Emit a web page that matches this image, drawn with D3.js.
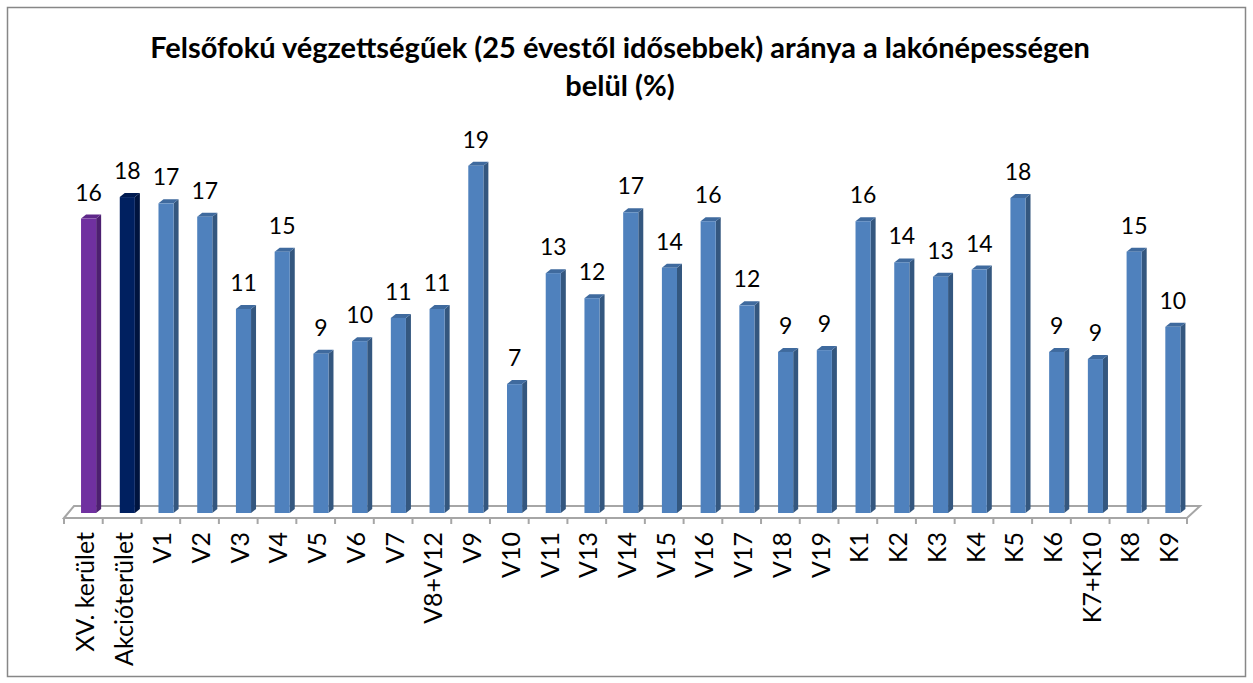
<!DOCTYPE html>
<html>
<head>
<meta charset="utf-8">
<script src="https://cdn.jsdelivr.net/npm/d3@7"></script>
<style>
  body { margin: 0; background: #fff; }
  text { font-family: Lato, "Open Sans", sans-serif; }
</style>
</head>
<body>
<div id="chart"></div>
<script>
// data (labels on the chart are rounded)
var categories = ["XV. kerület", "Akcióterület", "V1", "V2", "V3", "V4", "V5", "V6", "V7", "V8+V12",
  "V9", "V10", "V11", "V13", "V14", "V15", "V16", "V17", "V18", "V19",
  "K1", "K2", "K3", "K4", "K5", "K6", "K7+K10", "K8", "K9"];
var values = [16.45, 17.65, 17.3, 16.55, 11.4, 14.6, 8.9, 9.6, 10.9, 11.4,
  19.4, 7.2, 13.4, 12.0, 16.8, 13.7, 16.3, 11.6, 9.0, 9.1,
  16.3, 14.0, 13.2, 13.6, 17.6, 9.0, 8.6, 14.6, 10.4];
var titleLines = ["Felsőfokú végzettségűek (25 évestől idősebbek) aránya a lakónépességen", "belül (%)"];

var width = 1253, height = 683;
var plot = { left: 64, right: 1187, base: 513, floorFront: 518, floorBack: 506 };
var depth = { dx: 5, dy: -4 };

var svg = d3.select("#chart").append("svg")
  .attr("width", width)
  .attr("height", height);

// chart frame
svg.append("rect")
  .attr("x", 7.5).attr("y", 7.5)
  .attr("width", 1238).attr("height", 669)
  .attr("fill", "#fff")
  .attr("stroke", "#878787")
  .attr("stroke-width", 1.5);

// title
svg.selectAll(".title")
  .data(titleLines)
  .enter()
  .append("text")
  .attr("class", "title")
  .attr("x", 620)
  .attr("y", function(d, i) { return 58 + i * 38; })
  .attr("text-anchor", "middle")
  .style("font-weight", "bold")
  .style("font-size", "29px")
  .text(function(d) { return d; });

var x = d3.scaleBand()
  .domain(categories)
  .range([plot.left, plot.right])
  .padding(0);

var y = d3.scaleLinear()
  .domain([0, 20])
  .range([plot.base, plot.base - 358]);

// floor
svg.append("polygon")
  .attr("points", [[plot.left, plot.floorFront], [plot.left + 10, plot.floorBack],
    [plot.right + 13, plot.floorBack], [plot.right, plot.floorFront]].join(" "))
  .attr("fill", "#fff")
  .attr("stroke", "#a6a6a6")
  .attr("stroke-width", 2);

// ticks under the floor
var tickPos = categories.map(function(d) { return x(d); }).concat([plot.right]);
svg.selectAll(".tick")
  .data(tickPos)
  .enter()
  .append("line")
  .attr("x1", function(d) { return d; })
  .attr("x2", function(d) { return d; })
  .attr("y1", plot.floorFront)
  .attr("y2", plot.floorFront + 6)
  .attr("stroke", "#a6a6a6")
  .attr("stroke-width", 2);

function barColors(i) {
  if (i == 0) return { front: "#7030a0", side: "#4d1f70", top: "#5e2789" };
  if (i == 1) return { front: "#002060", side: "#00143f", top: "#001a50" };
  return { front: "#4f81bd", side: "#34577f", top: "#3f6a9e" };
}

var bw = x.bandwidth();
var bars = svg.selectAll(".bar")
  .data(values)
  .enter()
  .append("g")
  .attr("class", "bar");

function frontX(i) { return x(categories[i]) + bw * 0.44; }
var fw = bw * 0.39;

bars.append("polygon")
  .attr("points", function(d, i) {
    var x0 = frontX(i) + fw, yt = y(d);
    return [[x0, yt], [x0 + depth.dx, yt + depth.dy], [x0 + depth.dx, plot.base + depth.dy], [x0, plot.base]].join(" ");
  })
  .attr("fill", function(d, i) { return barColors(i).side; });

bars.append("polygon")
  .attr("points", function(d, i) {
    var x0 = frontX(i), yt = y(d);
    return [[x0, yt], [x0 + depth.dx, yt + depth.dy], [x0 + fw + depth.dx, yt + depth.dy], [x0 + fw, yt]].join(" ");
  })
  .attr("fill", function(d, i) { return barColors(i).top; });

bars.append("rect")
  .attr("x", function(d, i) { return frontX(i); })
  .attr("y", function(d) { return y(d); })
  .attr("width", fw)
  .attr("height", function(d) { return plot.base - y(d); })
  .attr("fill", function(d, i) { return barColors(i).front; });

// value labels
bars.append("text")
  .attr("x", function(d, i) { return frontX(i) + fw / 2; })
  .attr("y", function(d) { return y(d) - 18; })
  .attr("text-anchor", "middle")
  .style("font-size", "23px")
  .text(function(d) { return Math.round(d); });

// category labels, rotated
svg.selectAll(".cat")
  .data(categories)
  .enter()
  .append("text")
  .attr("class", "cat")
  .attr("transform", function(d) { return "translate(" + (x(d) + bw / 2 + 1.5) + ",532) rotate(-90)"; })
  .attr("dy", "0.36em")
  .attr("text-anchor", "end")
  .style("font-size", "25px")
  .text(function(d) { return d; });
</script>
</body>
</html>
